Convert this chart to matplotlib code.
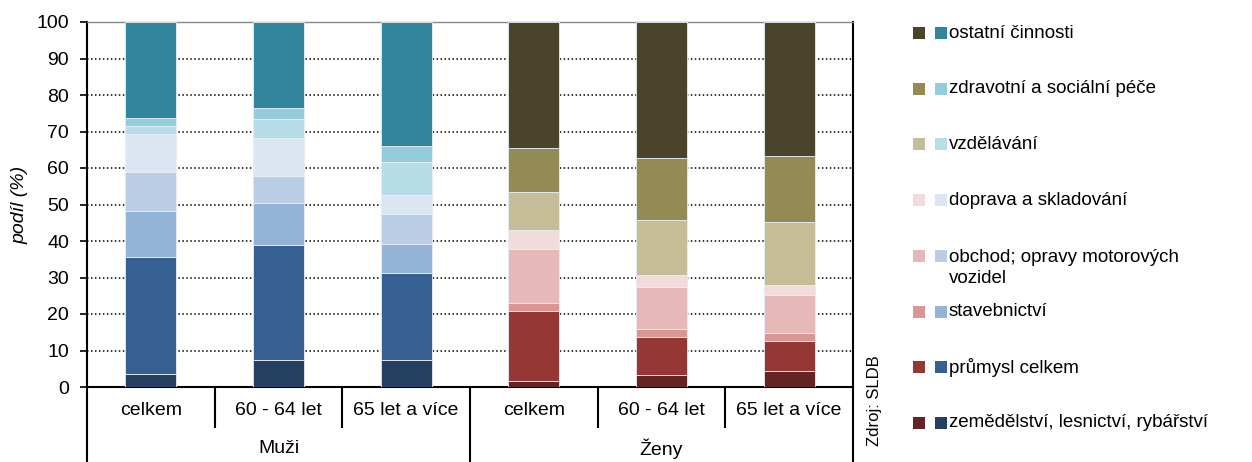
import matplotlib.pyplot as plt
import matplotlib.patches as patches

plt.rcParams['font.family'] = ['Liberation Sans', 'DejaVu Sans']

# categories on the x axis
kategorie = ['celkem', '60 - 64 let', '65 let a více', 'celkem', '60 - 64 let', '65 let a více']
skupiny = ['Muži', 'Ženy']

# shares (%) of each branch, bottom to top
zemedelstvi = [3.6, 7.4, 7.4, 1.7, 3.4, 4.5]
prumysl = [31.9, 31.4, 23.8, 19.2, 10.4, 8.2]
stavebnictvi = [12.7, 11.6, 8.1, 2.2, 2.2, 2.2]
obchod = [10.7, 7.5, 8.2, 14.6, 11.5, 10.4]
doprava = [10.5, 10.4, 5.1, 5.4, 3.2, 2.7]
vzdelavani = [2.2, 5.0, 9.1, 10.4, 15.1, 17.3]
zdravotni = [2.1, 3.2, 4.4, 12.0, 17.0, 18.0]
ostatni = [26.3, 23.5, 33.9, 34.5, 37.2, 36.7]

serie = [zemedelstvi, prumysl, stavebnictvi, obchod, doprava, vzdelavani, zdravotni, ostatni]
nazvy = ['zemědělství, lesnictví, rybářství', 'průmysl celkem', 'stavebnictví',
         'obchod; opravy motorových\nvozidel', 'doprava a skladování', 'vzdělávání',
         'zdravotní a sociální péče', 'ostatní činnosti']

barvy_muzi = ['#253f60', '#376092', '#95b3d7', '#b9cde5', '#dce6f2', '#b7dee8', '#93cddd', '#31859c']
barvy_zeny = ['#632523', '#953735', '#d99694', '#e6b9b8', '#f2dcdb', '#c4bd97', '#948a54', '#4a452a']

fig = plt.figure(figsize=(12.52, 4.62), dpi=100)
ax = fig.add_axes([87 / 1252, 1 - 387 / 462, (853 - 87) / 1252, 365 / 462])

x = list(range(len(kategorie)))
spodek = [0.0] * len(kategorie)
for i, hodnoty in enumerate(serie):
    barvy = [barvy_muzi[i]] * 3 + [barvy_zeny[i]] * 3
    ax.bar(x, hodnoty, width=0.4, bottom=spodek, color=barvy,
           edgecolor='#e8eef6', linewidth=0.6, zorder=3)
    spodek = [s + h for s, h in zip(spodek, hodnoty)]

ax.set_xlim(-0.5, 5.5)
ax.set_ylim(0, 100)
ax.set_yticks(range(0, 101, 10))
ax.tick_params(axis='y', labelsize=14, length=5, width=1.2, direction='out', pad=8)
ax.set_ylabel('podíl (%)', fontsize=14, style='italic', labelpad=6)
ax.yaxis.grid(True, linestyle=(0, (1, 1.6)), color='black', linewidth=1.1, zorder=0)
ax.set_axisbelow(True)

ax.set_xticks(x)
ax.set_xticklabels(kategorie, fontsize=14)
ax.tick_params(axis='x', length=0, pad=11)

for s in ['left', 'bottom', 'right']:
    ax.spines[s].set_linewidth(1.5)
    ax.spines[s].set_color('black')
ax.spines['top'].set_color('#888888')
ax.spines['top'].set_linewidth(1)

# multi-level x axis dividers
tr = ax.get_xaxis_transform()
for d in [0.5, 1.5, 3.5, 4.5]:
    ax.plot([d, d], [0, -0.11], color='black', lw=1.5, transform=tr, clip_on=False)
for d in [-0.5, 2.5, 5.5]:
    ax.plot([d, d], [0, -0.22], color='black', lw=1.5, transform=tr, clip_on=False)
for j, g in enumerate(skupiny):
    ax.text(1 + 3 * j, -0.168, g, transform=tr, ha='center', va='center', fontsize=14)

# legend: women square, men square, label
for k in range(len(serie)):
    i = len(serie) - 1 - k
    yc = 1 - (33 + 55.7 * k) / 462
    h = 12 / 462
    fig.patches.append(patches.Rectangle((913 / 1252, yc - h / 2), 12 / 1252, h,
                                         facecolor=barvy_zeny[i], transform=fig.transFigure))
    fig.patches.append(patches.Rectangle((935 / 1252, yc - h / 2), 12 / 1252, h,
                                         facecolor=barvy_muzi[i], transform=fig.transFigure))
    ty = yc - 12 / 462 if '\n' in nazvy[i] else yc
    fig.text(949 / 1252, ty, nazvy[i], fontsize=13.5, va='center', ha='left', linespacing=1.3)

fig.text(875 / 1252, 1 - 401 / 462, 'Zdroj: SLDB', rotation=90, fontsize=12,
         ha='center', va='center')

fig.savefig('out.png', dpi=100)
